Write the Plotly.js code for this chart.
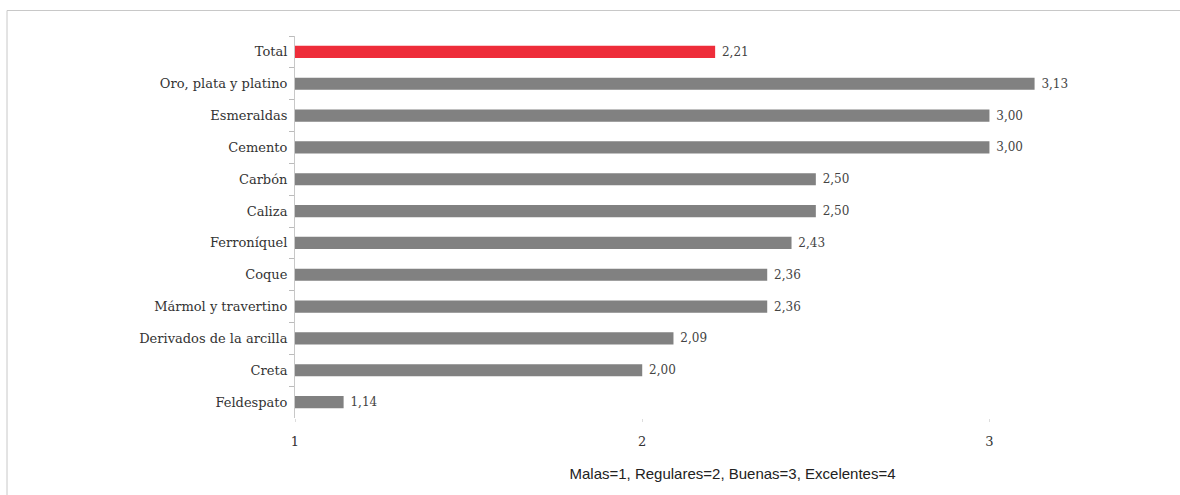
<!DOCTYPE html>
<html>
<head>
<meta charset="utf-8">
<script src="https://cdn.plot.ly/plotly-3.0.1.min.js"></script>
<style>
html,body{margin:0;padding:0;background:#fff;}
#chart{width:1180px;height:495px;}
</style>
</head>
<body>
<div id="chart"></div>
<script>
const categories = ["Total","Oro, plata y platino","Esmeraldas","Cemento","Carbón","Caliza","Ferroníquel","Coque","Mármol y travertino","Derivados de la arcilla","Creta","Feldespato"];
const values = [2.21,3.13,3.00,3.00,2.50,2.50,2.43,2.36,2.36,2.09,2.00,1.14];
const labels = ["2,21","3,13","3,00","3,00","2,50","2,50","2,43","2,36","2,36","2,09","2,00","1,14"];
const barColors = categories.map(c => c === "Total" ? "#EE2D3A" : "#818181");
const xTicks = [1,2,3];
const xTitle = "Malas=1, Regulares=2, Buenas=3, Excelentes=4";

const serif = "DejaVu Serif, Liberation Serif, serif";

const trace = {
  type: "bar",
  orientation: "h",
  y: categories,
  x: values.map(v => v - 1),
  base: 1,
  text: labels.map(t => "\u00a0" + t),
  textposition: "outside",
  constraintext: "none",
  cliponaxis: false,
  textfont: {family: serif, size: 12, color: "#444"},
  marker: {color: barColors},
  hoverinfo: "skip"
};

const layout = {
  width: 1180, height: 495,
  margin: {l: 295, r: 10, t: 36, b: 77},
  paper_bgcolor: "#fff", plot_bgcolor: "#fff",
  showlegend: false,
  bargap: 0.62,
  xaxis: {
    range: [1, 3.52],
    tickvals: xTicks,
    ticktext: xTicks.map(String),
    showgrid: false, zeroline: false, showline: false,
    ticks: "outside", ticklen: 3, tickcolor: "#dddddd",
    tickfont: {family: serif, size: 13, color: "#333"},
    ticklabelstandoff: 8,
    title: {text: xTitle, font: {family: "Liberation Sans, Arial, sans-serif", size: 15, color: "#222"}, standoff: 20}
  },
  yaxis: {
    autorange: "reversed",
    type: "category",
    showgrid: false, zeroline: false,
    showline: true, linecolor: "#c8c8c8", linewidth: 1,
    ticks: "outside", tickson: "boundaries", ticklen: 5, tickcolor: "#bbbbbb",
    tickfont: {family: serif, size: 13, color: "#333"},
    ticklabelstandoff: 4
  },
  shapes: [{
    type: "rect", xref: "paper", yref: "paper",
    x0: (7 - 295) / 875, x1: 1.2, y0: -0.5, y1: (418 - 10.5) / 382,
    line: {color: "#c8c8c8", width: 1}, fillcolor: "rgba(0,0,0,0)", layer: "below"
  }]
};

Plotly.newPlot("chart", [trace], layout, {staticPlot: true, displayModeBar: false});
</script>
</body>
</html>
